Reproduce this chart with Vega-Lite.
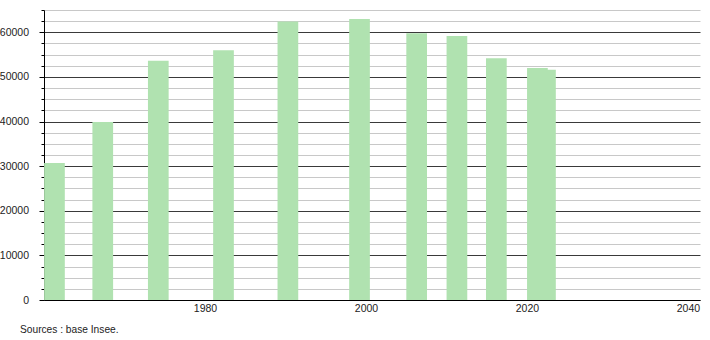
{
  "$schema": "https://vega.github.io/schema/vega-lite/v6.json",
  "width": 656,
  "height": 290,
  "autosize": {"type": "none"},
  "padding": {"left": 44, "top": 10, "right": 10, "bottom": 40},
  "background": "white",
  "config": {"view": {"stroke": null}, "font": "Liberation Sans"},
  "title": {
    "text": "Sources : base Insee.",
    "orient": "bottom",
    "anchor": "start",
    "frame": "group",
    "dx": -24,
    "offset": 11,
    "fontSize": 10.2,
    "fontWeight": "normal",
    "color": "#222222",
    "font": "Liberation Sans"
  },
  "data": {
    "values": [
      {"year": 1961.3, "population": 30700},
      {"year": 1967.3, "population": 39900},
      {"year": 1974.2, "population": 53600},
      {"year": 1982.3, "population": 56000},
      {"year": 1990.3, "population": 62400},
      {"year": 1999.2, "population": 63000},
      {"year": 2006.3, "population": 59800},
      {"year": 2011.3, "population": 59200},
      {"year": 2016.2, "population": 54200},
      {"year": 2022.3, "population": 51600},
      {"year": 2021.3, "population": 52000}
    ]
  },
  "mark": {"type": "bar", "size": 20.7, "color": "#b0e2b0", "clip": true},
  "encoding": {
    "x": {
      "field": "year",
      "type": "quantitative",
      "scale": {"domain": [1960, 2041.5], "nice": false, "zero": false, "padding": 0},
      "axis": {
        "title": null,
        "values": [1980, 2000, 2020, 2040],
        "format": "d",
        "grid": false,
        "ticks": false,
        "tickSize": 0,
        "domainColor": "#000000",
        "domainWidth": 1,
        "labelFontSize": 10.5,
        "labelColor": "#222222",
        "labelPadding": 3,
        "labelFlush": false
      }
    },
    "y": {
      "field": "population",
      "type": "quantitative",
      "scale": {"domain": [0, 65000], "nice": false},
      "axis": {
        "title": null,
        "values": [0, 2500, 5000, 7500, 10000, 12500, 15000, 17500, 20000, 22500, 25000, 27500, 30000, 32500, 35000, 37500, 40000, 42500, 45000, 47500, 50000, 52500, 55000, 57500, 60000, 62500, 65000],
        "format": "d",
        "labelExpr": "datum.value % 10000 === 0 ? datum.label : ''",
        "grid": true,
        "gridColor": {"condition": {"test": "datum.value % 10000 === 0", "value": "#3a3a3a"}, "value": "#c8c8c8"},
        "gridWidth": 1,
        "tickColor": "#000000",
        "tickSize": {"condition": {"test": "datum.value % 10000 === 0", "value": 5}, "value": 3},
        "domainColor": "#000000",
        "labelFontSize": 10.5,
        "labelColor": "#222222",
        "labelPadding": 10.5,
        "labelFlush": false,
        "labelOverlap": false
      }
    }
  }
}
